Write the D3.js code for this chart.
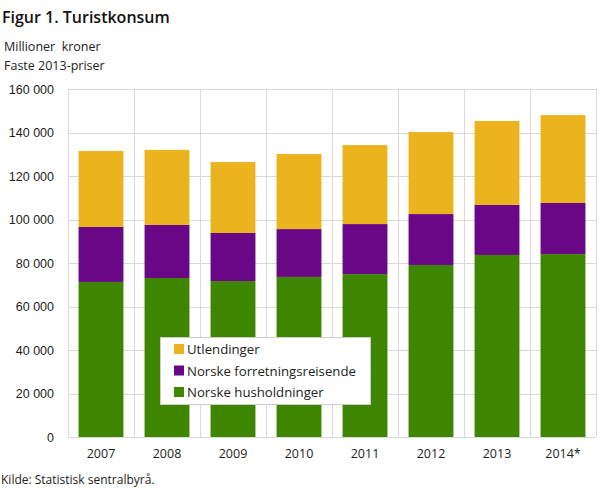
<!DOCTYPE html>
<html><head><meta charset="utf-8">
<script src="https://cdn.jsdelivr.net/npm/d3@7"></script>
<style>body{margin:0;background:#fff}svg{display:block}</style>
</head><body>
<svg id="c" width="609" height="488"></svg>
<script>
const years = ["2007","2008","2009","2010","2011","2012","2013","2014*"];
const husholdninger = [71300, 73100, 71700, 73600, 74900, 79100, 83700, 84100];
const forretning = [25300, 24400, 22100, 22000, 23000, 23400, 23000, 23500];
const utlendinger = [34900, 34500, 32600, 34500, 36300, 37700, 38600, 40400];
const yTicks = [0,20000,40000,60000,80000,100000,120000,140000,160000];
const seriesNames = ["Norske husholdninger","Norske forretningsreisende","Utlendinger"];
const colors = ["#3e8501","#690787","#ebb31e"];

const svg = d3.select("#c");
const L=68, R=596, T=89, B=437;
const x = d3.scaleBand().domain(years).range([L,R]).paddingInner(0.32).paddingOuter(0.16);
const y = d3.scaleLinear().domain([0,160000]).range([B,T]);
const fmt = v => d3.format(",")(v).replace(/,/g," ");

// gridlines
const g = svg.append("g");
g.selectAll(".h").data(yTicks).join("line")
 .attr("x1",L).attr("x2",R).attr("y1",d=>Math.round(y(d))+0.5).attr("y2",d=>Math.round(y(d))+0.5)
 .attr("stroke","#d9d9d9");
const step = (R-L)/years.length;
g.selectAll(".v").data(d3.range(years.length+1)).join("line")
 .attr("x1",i=>Math.round(L+i*step)+0.5).attr("x2",i=>Math.round(L+i*step)+0.5)
 .attr("y1",T).attr("y2",B).attr("stroke","#d9d9d9");

const data = years.map((yr,i)=>({year:yr, a:husholdninger[i], b:forretning[i], c:utlendinger[i]}));
const stack = d3.stack().keys(["a","b","c"])(data);
svg.append("g").selectAll("g").data(stack).join("g").attr("fill",(d,i)=>colors[i])
 .selectAll("rect").data(d=>d).join("rect")
 .attr("x",d=>x(d.data.year)).attr("width",x.bandwidth())
 .attr("y",d=>y(d[1])).attr("height",d=>y(d[0])-y(d[1]));

// y axis labels
svg.append("g").selectAll("text").data(yTicks).join("text")
 .attr("x",54).attr("y",d=>y(d)+4.5).attr("text-anchor","end")
 .attr("font-family","Liberation Sans, Arial, sans-serif").attr("font-size",12.5).attr("fill","#222")
 .text(fmt);
// x axis labels
svg.append("g").selectAll("text").data(years).join("text")
 .attr("x",d=>x(d)+x.bandwidth()/2).attr("y",458).attr("text-anchor","middle")
 .attr("font-family","Open Sans, sans-serif").attr("font-size",12.5).attr("fill","#222")
 .text(d=>d);

// title
svg.append("text").attr("x",2).attr("y",23).attr("font-family","Open Sans, sans-serif")
 .attr("font-size",16).attr("font-weight",600).attr("fill","#111").text("Figur 1. Turistkonsum");
svg.append("text").attr("x",4).attr("y",51).attr("font-family","Open Sans, sans-serif")
 .attr("font-size",12.5).attr("fill","#222").attr("xml:space","preserve").text("Millioner  kroner");
svg.append("text").attr("x",4).attr("y",70).attr("font-family","Open Sans, sans-serif")
 .attr("font-size",12.5).attr("fill","#222").text("Faste 2013-priser");
svg.append("text").attr("x",1).attr("y",484).attr("font-family","Open Sans, sans-serif")
 .attr("font-size",12).attr("fill","#222").text("Kilde: Statistisk sentralbyrå.");

// legend
const lg = svg.append("g");
lg.append("rect").attr("x",160.5).attr("y",337.5).attr("width",210).attr("height",67)
 .attr("fill","#fff").attr("stroke","#ccc");
const legOrder = [2,1,0];
legOrder.forEach((si,k)=>{
  const cy = 349 + k*21.5;
  lg.append("rect").attr("x",174).attr("y",cy-5).attr("width",10).attr("height",10).attr("fill",colors[si]);
  lg.append("text").attr("x",187).attr("y",cy+5).attr("font-family","Open Sans, sans-serif")
    .attr("font-size",13.2).attr("fill","#222").text(seriesNames[si]);
});
</script>
</body></html>
